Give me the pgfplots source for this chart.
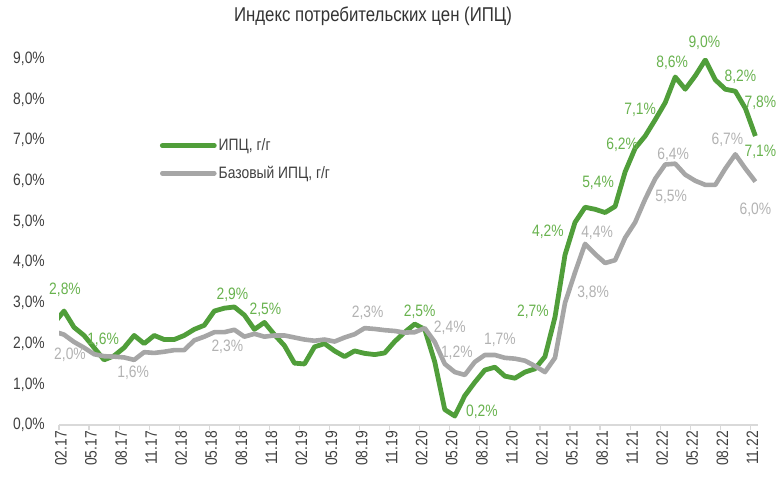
\documentclass[border=0pt]{standalone}
\usepackage{pgfplots}
\pgfplotsset{compat=1.18}
\usepackage{pgfplotstable}
\usepackage{fontspec}
\setmainfont{Liberation Sans}[FakeStretch=0.84]
\definecolor{cpi}{RGB}{80,158,58}
\definecolor{cpitxt}{RGB}{104,178,78}
\definecolor{core}{RGB}{166,166,166}
\definecolor{coretxt}{RGB}{178,178,178}
\definecolor{tick}{RGB}{64,64,64}
\definecolor{axl}{RGB}{217,217,217}

\pgfplotstableread{
k v
0 2.5
1 2.8
2 2.4
3 2.2
4 1.9
5 1.6
6 1.7
7 1.9
8 2.2
9 2.0
10 2.2
11 2.1
12 2.1
13 2.2
14 2.35
15 2.45
16 2.8
17 2.87
18 2.9
19 2.7
20 2.35
21 2.52
22 2.22
23 1.95
24 1.52
25 1.5
26 1.92
27 2.0
28 1.82
29 1.68
30 1.82
31 1.76
32 1.73
33 1.77
34 2.05
35 2.28
36 2.48
37 2.35
38 1.55
39 0.38
40 0.22
41 0.72
42 1.05
43 1.35
44 1.42
45 1.2
46 1.15
47 1.3
48 1.38
49 1.68
50 2.65
51 4.18
52 4.98
53 5.35
54 5.3
55 5.22
56 5.37
57 6.22
58 6.8
59 7.1
60 7.5
61 7.92
62 8.55
63 8.25
64 8.58
65 8.97
66 8.48
67 8.25
68 8.2
69 7.78
70 7.1
}\cpidata

\pgfplotstableread{
k v
0 2.3
1 2.22
2 2.04
3 1.9
4 1.74
5 1.69
6 1.68
7 1.66
8 1.6
9 1.79
10 1.77
11 1.8
12 1.84
13 1.84
14 2.08
15 2.17
16 2.28
17 2.28
18 2.34
19 2.17
20 2.24
21 2.17
22 2.2
23 2.2
24 2.15
25 2.1
26 2.07
27 2.1
28 2.05
29 2.15
30 2.23
31 2.38
32 2.36
33 2.33
34 2.31
35 2.27
36 2.28
37 2.38
38 2.04
39 1.5
40 1.3
41 1.23
42 1.55
43 1.72
44 1.72
45 1.65
46 1.63
47 1.58
48 1.45
49 1.3
50 1.65
51 3.0
52 3.75
53 4.45
54 4.2
55 3.98
56 4.05
57 4.6
58 4.98
59 5.55
60 6.05
61 6.4
62 6.42
63 6.15
64 6.0
65 5.9
66 5.9
67 6.3
68 6.65
69 6.3
70 5.98
}\coredata

\begin{document}
\begin{tikzpicture}
\useasboundingbox (0pt,0pt) rectangle (784pt,478pt);
\node[font=\fontsize{20pt}{23pt}\selectfont, text=black!80] at (373pt,462pt) {Индекс потребительских цен (ИПЦ)};
\begin{axis}[
  at={(59pt,53pt)}, anchor=south west,
  scale only axis,
  width=699.4pt, height=366.3pt,
  xmin=0.5, xmax=70.3,
  ymin=0, ymax=9,
  clip mode=individual,
  axis y line*=left,
  axis x line*=bottom,
  y axis line style={draw=none},
  x axis line style={draw=axl, line width=1.2pt, -},
  xtick={0.5,3.5,...,69.5},
  xticklabels={02.17,05.17,08.17,11.17,02.18,05.18,08.18,11.18,02.19,05.19,08.19,11.19,02.20,05.20,08.20,11.20,02.21,05.21,08.21,11.21,02.22,05.22,08.22,11.22},
  x tick style={draw=axl, line width=1.2pt},
  y tick style={draw=none},
  tick align=outside,
  major tick length=5pt,
  xticklabel style={rotate=90, anchor=east, font=\fontsize{16.5pt}{18pt}\selectfont, text=tick, inner sep=1pt, yshift=-2pt},
  ytick={0,1,...,9},
  /pgf/number format/assume math mode=true,
  yticklabel={\pgfmathprintnumber[fixed,fixed zerofill,precision=1,use comma]{\tick}\%},
  yticklabel style={font=\fontsize{16.5pt}{18pt}\selectfont, text=tick, anchor=east, inner sep=0pt, xshift=-9pt},
  legend style={at={(0.144,0.787)}, anchor=north west, draw=none, fill=none, font=\fontsize{16.5pt}{18pt}\selectfont, text=tick, row sep=10pt, inner sep=0pt, /tikz/every even column/.append style={column sep=4pt}},
  legend cell align=left,
  legend image code/.code={\draw[#1, line cap=round] (0pt,0pt) -- (52pt,0pt);},
]
\addplot[cpi, line width=4.8pt, line join=round] table[x=k,y=v]{\cpidata};
\addlegendentry{ИПЦ, г/г}
\addplot[core, line width=4.6pt, line join=round] table[x=k,y=v]{\coredata};
\addlegendentry{Базовый ИПЦ, г/г}

\begin{scope}[every node/.style={font=\fontsize{16.5pt}{18pt}\selectfont, inner sep=0pt, text=cpitxt}]
\node at (axis cs:1.1,3.32) {2,8\%};
\node at (axis cs:4.9,2.09) {1,6\%};
\node at (axis cs:17.8,3.19) {2,9\%};
\node at (axis cs:21.1,2.83) {2,5\%};
\node at (axis cs:36.5,2.78) {2,5\%};
\node at (axis cs:42.7,0.32) {0,2\%};
\node at (axis cs:47.8,2.78) {2,7\%};
\node at (axis cs:49.3,4.74) {4,2\%};
\node at (axis cs:54.3,5.95) {5,4\%};
\node at (axis cs:56.7,6.88) {6,2\%};
\node at (axis cs:58.5,7.74) {7,1\%};
\node at (axis cs:61.7,8.89) {8,6\%};
\node at (axis cs:64.9,9.39) {9,0\%};
\node at (axis cs:68.5,8.55) {8,2\%};
\node at (axis cs:70.5,7.91) {7,8\%};
\node at (axis cs:70.5,6.71) {7,1\%};
\end{scope}
\begin{scope}[every node/.style={font=\fontsize{16.5pt}{18pt}\selectfont, inner sep=0pt, text=coretxt}]
\node at (axis cs:1.6,1.72) {2,0\%};
\node at (axis cs:7.9,1.28) {1,6\%};
\node at (axis cs:17.3,1.92) {2,3\%};
\node at (axis cs:31.3,2.75) {2,3\%};
\node at (axis cs:39.5,2.38) {2,4\%};
\node at (axis cs:40.2,1.78) {1,2\%};
\node at (axis cs:44.5,2.09) {1,7\%};
\node at (axis cs:53.8,3.24) {3,8\%};
\node at (axis cs:54.2,4.72) {4,4\%};
\node at (axis cs:61.6,5.6) {5,5\%};
\node at (axis cs:61.8,6.63) {6,4\%};
\node at (axis cs:67.2,7.0) {6,7\%};
\node at (axis cs:70.0,5.28) {6,0\%};
\end{scope}
\end{axis}
\end{tikzpicture}
\end{document}
